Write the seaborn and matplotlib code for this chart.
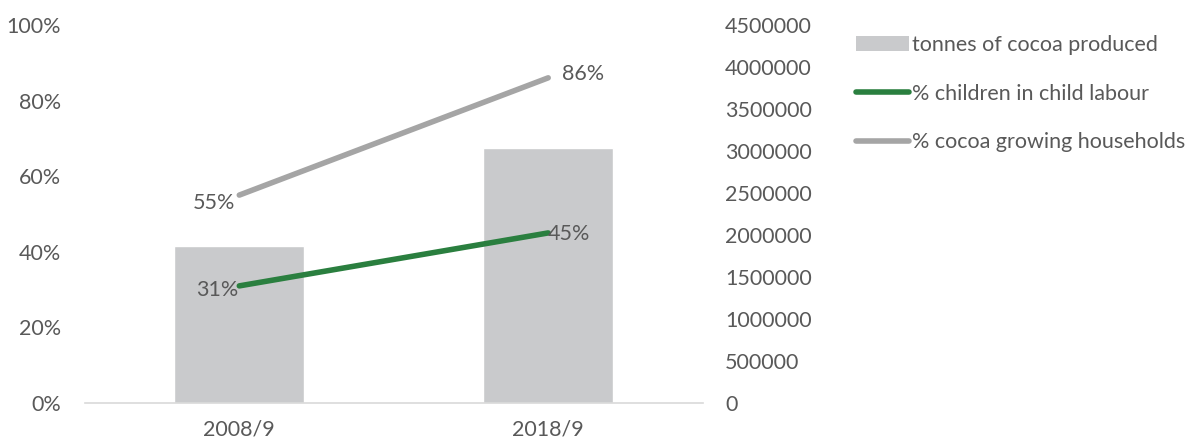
import matplotlib
matplotlib.use("Agg")
import matplotlib.pyplot as plt
import seaborn as sns
import pandas as pd
from matplotlib.patches import Patch
from matplotlib.lines import Line2D
from matplotlib.ticker import FuncFormatter, MultipleLocator

sns.set_theme(style="white")
plt.rcParams['font.family'] = ['Lato', 'DejaVu Sans']

categories = ["2008/9", "2018/9"]
tonnes = [1870000, 3030000]
child_labour = [0.31, 0.45]
households = [0.55, 0.86]

TXT = "#595959"
BAR = "#C9CACC"
GREEN = "#2A7F3F"
GRAY = "#A5A5A5"
FS = 15.5

fig = plt.figure(figsize=(11.95, 4.44), dpi=100)
ax_bar = fig.add_axes([0.071, 0.092, 0.517, 0.852])
ax_line = ax_bar.twinx()

df = pd.DataFrame({"cat": categories, "tonnes": tonnes,
                   "child": child_labour, "house": households})

sns.barplot(data=df, x="cat", y="tonnes", ax=ax_bar, color=BAR,
            width=0.42, saturation=1)
ax_bar.set_ylim(0, 4500000)
ax_bar.yaxis.set_major_locator(MultipleLocator(500000))
ax_bar.yaxis.set_major_formatter(FuncFormatter(lambda v, p: f"{v:.0f}"))
ax_bar.yaxis.tick_right()
ax_bar.yaxis.set_label_position("right")
ax_bar.set_xlim(-0.5, 1.5)

sns.lineplot(data=df, x="cat", y="house", ax=ax_line, color=GRAY,
             linewidth=4, sort=False, solid_capstyle="round")
sns.lineplot(data=df, x="cat", y="child", ax=ax_line, color=GREEN,
             linewidth=4, sort=False, solid_capstyle="round")
ax_line.set_ylim(0, 1)
ax_line.yaxis.set_major_locator(MultipleLocator(0.2))
ax_line.yaxis.set_major_formatter(FuncFormatter(lambda v, p: f"{v*100:.0f}%"))
ax_line.yaxis.tick_left()
ax_line.set_xlim(-0.5, 1.5)

for a in (ax_bar, ax_line):
    a.set_xlabel("")
    a.set_ylabel("")
    for s in a.spines.values():
        s.set_visible(False)
    a.tick_params(axis="both", length=0, labelsize=FS, labelcolor=TXT)
ax_bar.spines["bottom"].set_visible(True)
ax_bar.spines["bottom"].set_color("#D9D9D9")
ax_bar.spines["bottom"].set_linewidth(1.2)
ax_bar.tick_params(axis="x", pad=12)
ax_bar.tick_params(axis="y", pad=16)
ax_line.tick_params(axis="y", pad=17)
ax_line.tick_params(axis="x", labelbottom=False)

# data labels
for i, (c, h) in enumerate(zip(child_labour, households)):
    if i == 0:
        ax_line.annotate(f"{h*100:.0f}%", (i, h), xytext=(-3, -6),
                         textcoords="offset points", ha="right", va="center",
                         fontsize=FS, color=TXT)
        ax_line.annotate(f"{c*100:.0f}%", (i, c), xytext=(-1, -3),
                         textcoords="offset points", ha="right", va="center",
                         fontsize=FS, color=TXT)
    else:
        ax_line.annotate(f"{h*100:.0f}%", (i, h), xytext=(10, 3),
                         textcoords="offset points", ha="left", va="center",
                         fontsize=FS, color=TXT)
        ax_line.annotate(f"{c*100:.0f}%", (i, c), xytext=(0, -1),
                         textcoords="offset points", ha="left", va="center",
                         fontsize=FS, color=TXT)

handles = [Patch(facecolor=BAR, edgecolor="none"),
           Line2D([0], [0], color=GREEN, lw=4, solid_capstyle="round"),
           Line2D([0], [0], color=GRAY, lw=4, solid_capstyle="round")]
labels = ["tonnes of cocoa produced", "% children in child labour",
          "% cocoa growing households"]
fig.legend(handles, labels, loc="upper left", bbox_to_anchor=(0.709, 0.94),
           frameon=False, fontsize=FS, labelcolor=TXT, handlelength=2.45,
           handleheight=0.7, handletextpad=0.15, labelspacing=1.32,
           borderaxespad=0)

fig.savefig("out.png", dpi=100)
